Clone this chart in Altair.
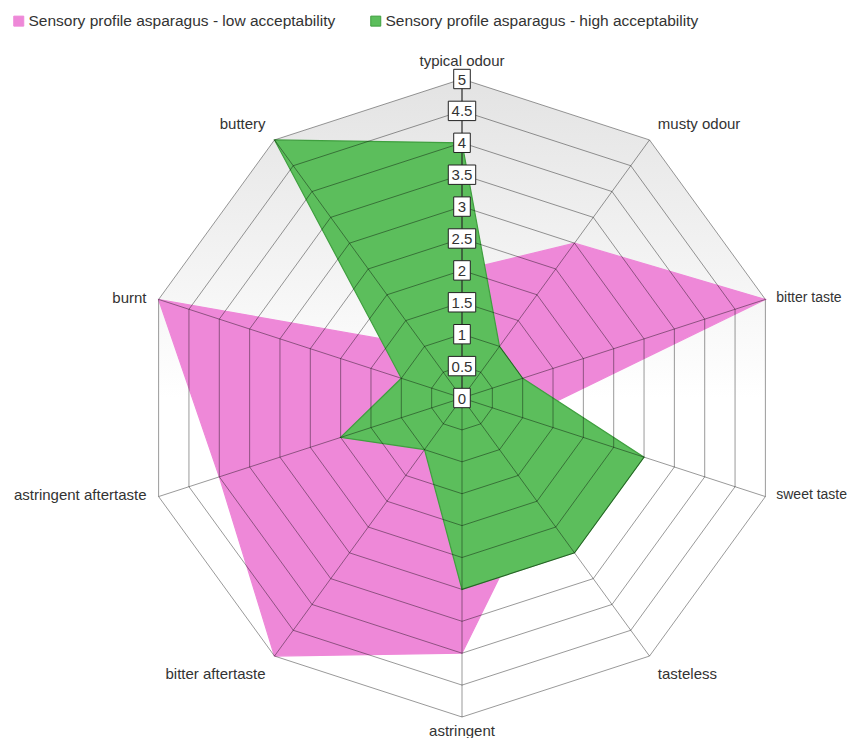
import altair as alt
import pandas as pd

# ---------------- data ----------------
categories = ["typical odour", "musty odour", "bitter taste", "sweet taste", "tasteless",
              "astringent", "bitter aftertaste", "astringent aftertaste", "burnt", "buttery"]
low_values = [2, 3, 5, 1, 2, 4, 5, 4, 5, 1]
high_values = [4, 1, 1, 3, 3, 3, 1, 2, 1, 5]
series_names = ["Sensory profile asparagus - low acceptability",
                "Sensory profile asparagus - high acceptability"]
grid_levels = [0.5, 1, 1.5, 2, 2.5, 3, 3.5, 4, 4.5, 5]
tick_values = [0, 0.5, 1, 1.5, 2, 2.5, 3, 3.5, 4, 4.5, 5]
tick_labels = ["0", "0.5", "1", "1.5", "2", "2.5", "3", "3.5", "4", "4.5", "5"]

N = len(categories)
RMAX = 5
FONT = "Liberation Sans"
PINK = "#ee88d8"
GREEN = "#5cbe5c"

rows = []
for name, vals in zip(series_names, [low_values, high_values]):
    for i, (c, v) in enumerate(zip(categories, vals)):
        rows.append({"series": name, "idx": i, "category": c, "value": v})
profile = pd.DataFrame(rows)
grid = pd.DataFrame([{"level": l, "idx": i} for l in grid_levels for i in range(N)])
spokes = pd.DataFrame({"idx": list(range(N)), "category": categories})
ticks = pd.DataFrame({"label": tick_labels, "value": tick_values})

# ---------------- scales ----------------
W, H = 839, 730
UNIT = 63.8
XMIN = -(462 - 8) / UNIT
XMAX = XMIN + W / UNIT
YMAX = (398 - 8) / UNIT
YMIN = YMAX - H / UNIT
xs = alt.Scale(domain=[XMIN, XMAX], nice=False, zero=False)
ys = alt.Scale(domain=[YMIN, YMAX], nice=False, zero=False)

ANG = f"datum.idx * 2 * PI / {N}"


def X(f):
    return alt.X(f, type="quantitative", scale=xs, axis=None)


def Y(f):
    return alt.Y(f, type="quantitative", scale=ys, axis=None)


# background decagon with gradient
background = alt.Chart(spokes).transform_calculate(
    bx=f"{RMAX} * sin({ANG})", by=f"{RMAX} * cos({ANG})"
).mark_line(
    interpolate="linear-closed", stroke="transparent",
    fill={"gradient": "linear", "x1": 0, "y1": 0, "x2": 0, "y2": 1,
          "stops": [{"offset": 0, "color": "#e3e3e3"},
                    {"offset": 0.5, "color": "#ffffff"},
                    {"offset": 1, "color": "#ffffff"}]}
).encode(x=X("bx"), y=Y("by"), order=alt.Order("idx:Q"))

color_scale = alt.Scale(domain=series_names, range=[PINK, GREEN])
stroke_scale = alt.Scale(domain=series_names, range=[PINK, "#3f9f3f"])


def polygon(name):
    return alt.Chart(profile).transform_filter(
        alt.datum.series == name
    ).transform_calculate(
        px=f"datum.value * sin({ANG})", py=f"datum.value * cos({ANG})"
    ).mark_line(interpolate="linear-closed", filled=True, strokeWidth=1.2).encode(
        x=X("px"), y=Y("py"),
        order=alt.Order("idx:Q"),
        color=alt.Color("series:N", scale=color_scale, title=None,
                        legend=alt.Legend(orient="none", legendX=3, legendY=5,
                                          direction="horizontal",
                                          symbolType="square", symbolSize=100,
                                          symbolStrokeColor="#555", symbolStrokeWidth=1,
                                          labelFont=FONT, labelFontSize=15.5,
                                          labelColor="#333", labelLimit=600,
                                          labelOffset=2, columnPadding=32, padding=0)),
        stroke=alt.Stroke("series:N", scale=stroke_scale, legend=None),
    )


low_poly = polygon(series_names[0])
high_poly = polygon(series_names[1])

rings = alt.Chart(grid).transform_calculate(
    gx=f"datum.level * sin({ANG})", gy=f"datum.level * cos({ANG})"
).mark_line(interpolate="linear-closed", stroke="black", strokeOpacity=0.4, strokeWidth=1).encode(
    x=X("gx"), y=Y("gy"), detail="level:N", order=alt.Order("idx:Q")
)

spoke_lines = alt.Chart(spokes).transform_calculate(
    x0="0", y0="0", sx=f"{RMAX} * sin({ANG})", sy=f"{RMAX} * cos({ANG})"
).mark_rule(color="black", opacity=0.4, strokeWidth=1).encode(
    x=X("x0"), y=Y("y0"), x2="sx:Q", y2="sy:Q"
)

main_axis = alt.Chart(spokes).transform_filter(alt.datum.idx == 0).transform_calculate(
    x0="0", y0="0", sx=f"{RMAX} * sin({ANG})", sy=f"{RMAX} * cos({ANG})"
).mark_rule(color="#333", strokeWidth=1).encode(
    x=X("x0"), y=Y("y0"), x2="sx:Q", y2="sy:Q"
)

tick_boxes = alt.Chart(ticks).transform_calculate(
    hw="length(datum.label) > 1 ? 0.215 : 0.13",
).transform_calculate(
    bx1="-datum.hw", bx2="datum.hw",
    by1="datum.value - 0.152", by2="datum.value + 0.152"
).mark_rect(fill="white", stroke="#222", strokeWidth=1).encode(
    x=X("bx1"), x2="bx2:Q", y=Y("by1"), y2="by2:Q"
)

tick_text = alt.Chart(ticks).transform_calculate(tx="0").mark_text(
    font=FONT, fontSize=15, color="#333", baseline="middle", align="center", dy=0.5
).encode(x=X("tx"), y=Y("value"), text="label:N")

# category labels
lab = alt.Chart(spokes).transform_calculate(
    s=f"sin({ANG})", c=f"cos({ANG})"
).transform_calculate(
    lx=f"{RMAX} * datum.s + (datum.s > 0.1 ? (datum.s > 0.9 ? 0.17 : 0.13) : (datum.s < -0.1 ? (datum.s < -0.9 ? -0.19 : -0.14) : 0))",
    ly=f"{RMAX} * datum.c + (datum.c > 0.9 ? 0.285 : (datum.c > 0.5 ? 0.25 : (datum.c < -0.9 ? -0.22 : (datum.c < -0.5 ? -0.28 : 0.03))))"
)


def labels(cond, align, size=15):
    return lab.transform_filter(cond).mark_text(
        font=FONT, fontSize=size, color="#333", baseline="middle", align=align
    ).encode(x=X("lx"), y=Y("ly"), text="category:N")


lab_left = labels("datum.s > 0.1 && datum.s <= 0.9", "left")
lab_left_edge = labels("datum.s > 0.9", "left", 14)
lab_right = labels("datum.s < -0.1", "right")
lab_center = labels("abs(datum.s) <= 0.1", "center")

chart = alt.layer(
    background, low_poly, high_poly, rings, spoke_lines, main_axis,
    tick_boxes, tick_text, lab_left, lab_left_edge, lab_right, lab_center
).properties(
    width=W, height=H, autosize=alt.AutoSizeParams(type="none"), padding=0
).configure_view(stroke=None)

chart.save("out.html", embed_options={"renderer": "svg", "actions": False})
